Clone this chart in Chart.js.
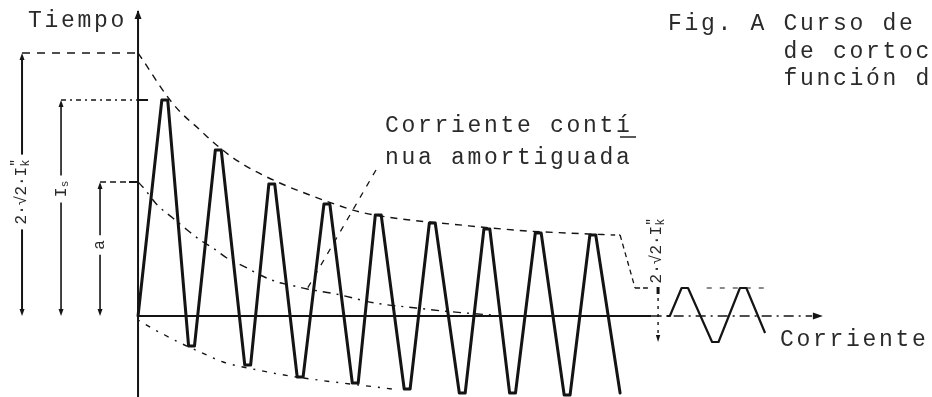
<!DOCTYPE html>
<html>
<head>
<meta charset="utf-8">
<script src="https://cdn.jsdelivr.net/npm/chart.js@4.4.1/dist/chart.umd.min.js"></script>
<style>
  html, body { margin: 0; padding: 0; background: #fff; overflow: hidden; }
  canvas { display: block; }
</style>
</head>
<body>
<canvas id="c" width="932" height="397"></canvas>
<script>
// Short-circuit current over time: time in cycles, current in arbitrary units.

// Asymmetric current wave: crests and troughs
const peakTimes    = [0.5, 1.5, 2.5, 3.53, 4.49, 5.5, 6.52, 7.48, 8.5];
const peakValues   = [21.6, 16.6, 13.2, 11.2, 10.1, 9.3, 8.7, 8.3, 8.1];
const troughTimes  = [1.0, 2.05, 3.03, 4.06, 5.03, 6.06, 7.0, 8.02];
const troughValues = [-3.0, -4.9, -6.1, -6.7, -7.3, -7.7, -7.7, -7.9];
const waveStart    = [0, 0];
const waveEnd      = [9.01, -7.7];

// Upper envelope of the crests
const upperTimes  = [0, 0.09, 0.36, 0.54, 0.79, 1.16, 1.4, 1.78, 2.15, 2.65, 3.16, 3.78, 4.15, 4.65, 5.08, 5.83, 7.27, 8.02, 8.88];
const upperValues = [26.3, 25.6, 23.4, 22.0, 20.4, 18.6, 17.4, 15.8, 14.6, 13.3, 12.2, 11.0, 10.4, 9.9, 9.6, 9.2, 8.5, 8.3, 8.1];

// Decaying DC component
const dcTimes  = [0, 0.09, 0.36, 0.65, 0.92, 1.16, 1.4, 1.66, 2.04, 2.28, 2.6, 2.84, 3.16, 3.7, 4.43, 5.2, 5.7, 6.6];
const dcValues = [13.4, 12.9, 11.1, 9.8, 8.6, 7.6, 6.8, 5.8, 4.8, 4.1, 3.4, 3.1, 2.7, 2.2, 1.3, 0.8, 0.5, 0.1];

// Lower envelope of the troughs
const lowerTimes  = [0, 0.32, 0.5, 0.79, 1.16, 1.59, 2.24, 2.84, 4.75];
const lowerValues = [-0.4, -1.4, -1.9, -2.7, -3.6, -4.6, -5.4, -6.0, -7.3];

// Steady-state symmetrical current
const steadyStart        = [9.88, 0];
const steadyPeakTimes    = [10.22, 11.31];
const steadyPeakValues   = [2.8, 2.8];
const steadyTroughTimes  = [10.79];
const steadyTroughValues = [-2.6];
const steadyEnd          = [11.72, -1.7];

// Text
const titleLines  = ['Fig. A Curso de', '       de cortoc', '       función d'];
const yAxisLabel  = 'Tiempo';
const xAxisLabel  = 'Corriente';
const noteLines   = ['Corriente contí', 'nua amortiguada'];

const INK = '#141414';
const TEXT = '#2a2a2a';
const MONO = '"Liberation Mono", "DejaVu Sans Mono", monospace';

function toPoints(ts, vs) { return ts.map((t, i) => ({ x: t, y: vs[i] })); }

function buildWave(start, pT, pV, tT, tV, end, half) {
  const pts = [{ x: start[0], y: start[1] }];
  for (let i = 0; i < pT.length; i++) {
    pts.push({ x: pT[i] - half, y: pV[i] }, { x: pT[i] + half, y: pV[i] });
    if (i < tT.length) pts.push({ x: tT[i] - half, y: tV[i] }, { x: tT[i] + half, y: tV[i] });
  }
  pts.push({ x: end[0], y: end[1] });
  return pts;
}

const mainWave = buildWave(waveStart, peakTimes, peakValues, troughTimes, troughValues, waveEnd, 0.055);
const steadyWave = [{ x: steadyStart[0], y: steadyStart[1] }].concat(
  buildWave([steadyStart[0] + 0.06, steadyStart[1]], steadyPeakTimes, steadyPeakValues,
            steadyTroughTimes, steadyTroughValues, steadyEnd, 0.06));

function arrow(ctx, x, y, dx, dy, len, wid) {
  const nx = -dy, ny = dx;
  ctx.beginPath();
  ctx.moveTo(x, y);
  ctx.lineTo(x - dx * len + nx * wid, y - dy * len + ny * wid);
  ctx.lineTo(x - dx * len - nx * wid, y - dy * len - ny * wid);
  ctx.closePath();
  ctx.fill();
}

function seg(ctx, x1, y1, x2, y2, width, dash) {
  ctx.save();
  ctx.lineWidth = width;
  ctx.setLineDash(dash || []);
  ctx.beginPath();
  ctx.moveTo(x1, y1);
  ctx.lineTo(x2, y2);
  ctx.stroke();
  ctx.restore();
}

// Rotated label built from parts (subscripts / primes stacked)
function rotLabel(ctx, cx, cy, parts) {
  ctx.save();
  let w = 0;
  parts.forEach(p => {
    ctx.font = p.size + 'px ' + MONO;
    p.w = ctx.measureText(p.t).width;
    if (!p.stack) w += p.w;
  });
  ctx.translate(cx, cy);
  ctx.rotate(-Math.PI / 2);
  ctx.textBaseline = 'middle';
  ctx.textAlign = 'left';
  let x0 = -w / 2;
  parts.forEach(p => {
    ctx.font = p.size + 'px ' + MONO;
    ctx.fillText(p.t, x0, p.dy || 0);
    if (!p.stack) x0 += p.w;
  });
  ctx.restore();
  return w;
}

const IkParts = (s) => [
  { t: '2·√2·I', size: s },
  { t: '″', size: s - 3, dy: -6, stack: true },
  { t: 'k', size: s - 4, dy: 4 }
];

const sketch = {
  id: 'sketch',
  afterDatasetsDraw(chart) {
    const { ctx, scales: { x, y } } = chart;
    const X = v => x.getPixelForValue(v);
    const Y = v => y.getPixelForValue(v);
    const ox = X(0), oy = Y(0);
    const H = chart.height;

    ctx.save();
    ctx.strokeStyle = INK;
    ctx.fillStyle = INK;
    ctx.lineCap = 'butt';

    // vertical axis with arrow
    seg(ctx, ox, H, ox, Y(30.5), 2);
    arrow(ctx, ox, Y(30.6), 0, -1, 9, 3.5);

    // horizontal axis: solid, then dash-dot towards the arrow
    seg(ctx, ox, oy, X(9.6), oy, 2);
    seg(ctx, X(9.6), oy, X(12.6), oy, 1.6, [10, 5, 2, 5]);
    arrow(ctx, X(12.8), oy, 1, 0, 10, 3.5);

    // left dimension lines
    const dims = [
      { px: ox - 116, top: upperValues[0], labelY: 192, parts: IkParts(16), ext: [8, 7], w: 2 },
      { px: ox - 77,  top: peakValues[0],  labelY: 189, parts: [{ t: 'I', size: 17 }, { t: 's', size: 11, dy: 4 }], ext: [5, 4, 2, 4], w: 1.6 },
      { px: ox - 38,  top: dcValues[0],    labelY: 245, parts: [{ t: 'a', size: 16 }], ext: [6, 4], w: 1.6 }
    ];
    dims.forEach(d => {
      const ty = Y(d.top);
      ctx.fillStyle = TEXT;
      const len = rotLabel(ctx, d.px, d.labelY, d.parts);
      ctx.fillStyle = INK;
      seg(ctx, d.px, ty + 4, d.px, d.labelY - len / 2 - 5, d.w);
      seg(ctx, d.px, d.labelY + len / 2 + 5, d.px, oy - 4, d.w);
      arrow(ctx, d.px, ty, 0, -1, 7, 2.5);
      arrow(ctx, d.px, oy, 0, 1, 7, 2.5);
      seg(ctx, d.px, ty, ox, ty, 1.3, d.ext);
    });
    // short ticks on the vertical axis
    seg(ctx, ox, Y(peakValues[0]), ox + 10, Y(peakValues[0]), 2);
    seg(ctx, ox - 9, Y(dcValues[0]), ox, Y(dcValues[0]), 2);

    // bracket from the end of the upper envelope down to the steady crest level
    const ue = upperTimes.length - 1;
    const crest = steadyPeakValues[0];
    seg(ctx, X(upperTimes[ue]), Y(upperValues[ue]), X(9.01), Y(upperValues[ue]), 1.3, [2, 4]);
    seg(ctx, X(9.01), Y(upperValues[ue]), X(9.29), Y(crest), 1.3, [5, 4]);
    seg(ctx, X(9.29), Y(crest), X(9.53), Y(crest), 1.3, [5, 3]);
    // crest level of the steady wave
    seg(ctx, X(10.63), Y(crest), X(11.78), Y(crest), 1.2, [5, 8]);

    // right dimension: crest to trough of the steady wave
    const rx = X(9.72);
    seg(ctx, rx, Y(crest) + 2, rx, Y(steadyTroughValues[0]) - 6, 1.4, [3, 5]);
    ctx.fillRect(rx - 1.5, Y(crest) - 1, 3, 7);
    arrow(ctx, rx, Y(steadyTroughValues[0]), 0, 1, 7, 2.2);
    ctx.fillStyle = TEXT;
    rotLabel(ctx, rx - 1, 251, IkParts(16));
    ctx.fillStyle = INK;

    // leader from the note to the DC curve
    const li = 12;
    seg(ctx, 376, 170, X(dcTimes[li]), Y(dcValues[li]), 1.3, [6, 7]);

    // typewritten text
    ctx.fillStyle = TEXT;
    ctx.font = '23px ' + MONO;
    ctx.textBaseline = 'alphabetic';
    ctx.textAlign = 'left';
    try { ctx.letterSpacing = '2.7px'; } catch (e) {}
    ctx.fillText(yAxisLabel, 28, 27);
    ctx.fillText(xAxisLabel, 780, 346);
    titleLines.forEach((t, i) => ctx.fillText(t, 668, 30 + i * 27.5));
    noteLines.forEach((t, i) => ctx.fillText(t, 385, 132 + i * 32));
    try { ctx.letterSpacing = '0px'; } catch (e) {}
    // typewriter underline beneath the last letter of the note
    seg(ctx, 620, 137, 636, 137, 1.4);

    ctx.restore();
  }
};

new Chart(document.getElementById('c'), {
  type: 'line',
  data: {
    datasets: [
      { data: mainWave, borderColor: INK, borderWidth: 3, tension: 0, borderJoinStyle: 'round', borderCapStyle: 'round' },
      { data: steadyWave, borderColor: INK, borderWidth: 2.2, tension: 0, borderJoinStyle: 'round' },
      { data: toPoints(upperTimes, upperValues), borderColor: INK, borderWidth: 1.4, borderDash: [7, 6], cubicInterpolationMode: 'monotone' },
      { data: toPoints(dcTimes, dcValues), borderColor: INK, borderWidth: 1.4, borderDash: [8, 6, 2, 6], cubicInterpolationMode: 'monotone' },
      { data: toPoints(lowerTimes, lowerValues), borderColor: INK, borderWidth: 1.4, borderDash: [2, 7, 5, 7], cubicInterpolationMode: 'monotone' }
    ]
  },
  options: {
    responsive: false,
    animation: false,
    devicePixelRatio: 1,
    events: [],
    layout: { padding: 0 },
    elements: { point: { radius: 0 } },
    plugins: { legend: { display: false }, tooltip: { enabled: false }, title: { display: false } },
    scales: {
      x: { type: 'linear', display: false, min: -2.58, max: 14.84 },
      y: { type: 'linear', display: false, min: -8.1, max: 31.6 }
    }
  },
  plugins: [sketch]
});
</script>
</body>
</html>
